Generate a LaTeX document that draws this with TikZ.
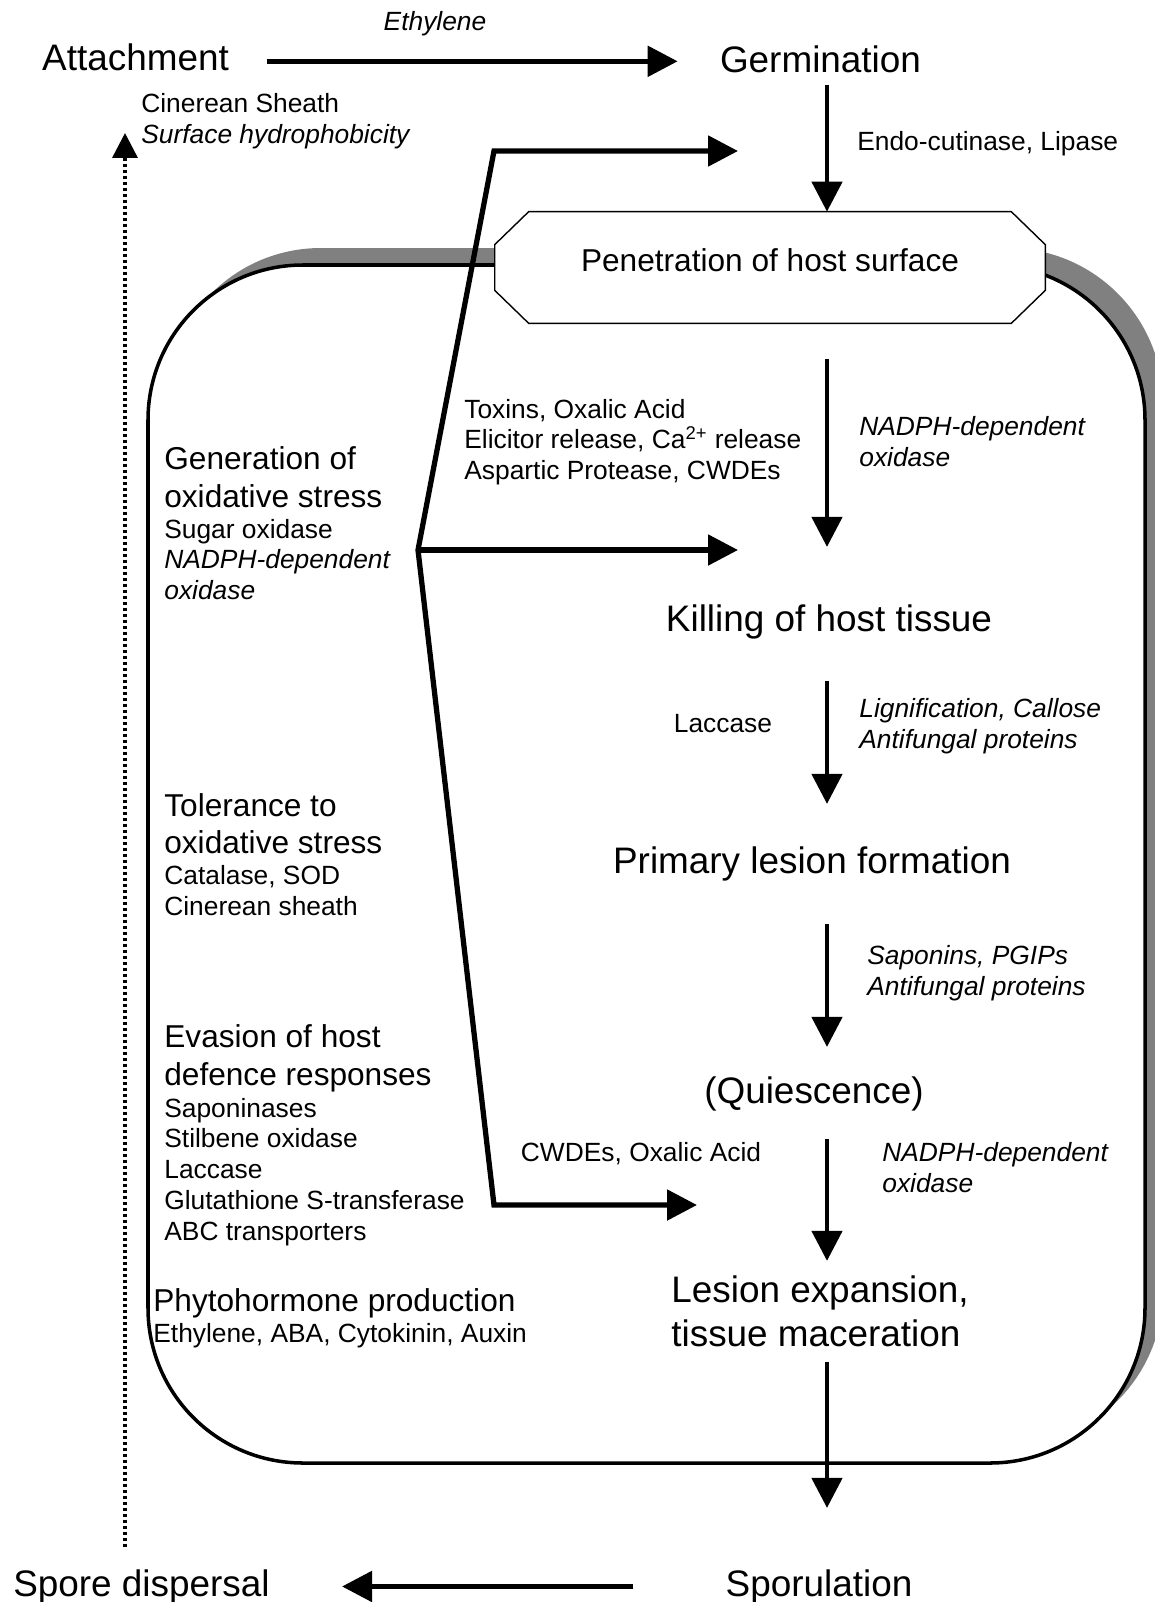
\documentclass[tikz,border=0pt]{standalone}
\usepackage{fontspec}
\setmainfont{Liberation Sans}
\usetikzlibrary{arrows.meta,positioning,backgrounds}
\tikzstyle{stage}=[font=\fontsize{21}{24.5}\selectfont, inner sep=0pt, anchor=base]
\tikzstyle{heading}=[font=\fontsize{18}{21.3}\selectfont, inner sep=0pt, anchor=base west, align=left]
\tikzstyle{factor}=[font=\fontsize{15}{17.5}\selectfont, inner sep=0pt, anchor=base west, align=left]
\tikzstyle{hostfactor}=[factor, font=\fontsize{15}{17.5}\selectfont\itshape]
\tikzstyle{flow}=[line width=3pt, -{Triangle[length=0.6cm, width=0.6cm]}]
\tikzstyle{advance}=[line width=2.6pt, -{Triangle[length=0.6cm, width=0.6cm]}]
\tikzstyle{dispersal}=[line width=2pt, dash pattern=on 0.06cm off 0.06cm, -{Triangle[length=0.5cm, width=0.5cm]}]
\tikzstyle{hostbox}=[line width=2pt, rounded corners=3.1cm]
\tikzstyle{surface}=[rectangle, minimum width=11cm, minimum height=2.22cm, inner sep=0pt, text depth=0.3cm, font=\fontsize{18}{21.3}\selectfont]

\begin{document}
\begin{tikzpicture}[x=0.02cm, y=-0.02cm]
		
		\useasboundingbox (0,0) rectangle (1154,1602);
		
		\node[surface] at (770, 267.5) (pen) {Penetration of host surface};
		
		\node[stage] at (135.5, 71) (att) {Attachment};
		
		\node[stage] at (820.5, 73) (germ) {Germination};
		
		\node[stage] at (829, 631) (kill) {Killing of host tissue};
		
		\node[stage] at (812, 873) (prim) {Primary lesion formation};
		
		\node[stage] at (814, 1103) (quies) {(Quiescence)};
		
		\node[stage, anchor=base west, align=left] at (671, 1346) (lesion) {Lesion expansion,\\tissue maceration};
		
		\node[stage] at (819, 1596) (spor) {Sporulation};
		
		\node[stage] at (141.5, 1596) (spore) {Spore dispersal};
		
		\coordinate (spine) at (827, 0);
		\coordinate (sheathtip) at (125, 133);
		\coordinate (fork) at (418, 550);
		\coordinate (forkup) at (494, 151);
		\coordinate (forkdown) at (494, 1205);
		\coordinate (penin) at (738, 151);
		\coordinate (killin) at (738, 550);
		\coordinate (lesionin) at (697, 1205);
		
		\node[hostfactor, anchor=base] at (435, 31) (ethylene) {Ethylene};
		\node[factor] at (141, 143.5) (sheath) {Cinerean Sheath\\\textit{Surface hydrophobicity}};
		\node[factor] at (857, 150.5) (cutinase) {Endo-cutinase, Lipase};
		\node[factor] at (464, 479.5) (toxins) {Toxins, Oxalic Acid\\Elicitor release, Ca\textsuperscript{2+} release\\Aspartic Protease, CWDEs};
		\node[hostfactor] at (859, 466.5) (oxidasea) {NADPH-dependent\\oxidase};
		\node[factor, anchor=base] at (723, 732.5) (laccase) {Laccase};
		\node[hostfactor] at (859, 748.5) (lignin) {Lignification, Callose\\Antifungal proteins};
		\node[hostfactor] at (867, 995.5) (saponins) {Saponins, PGIPs\\Antifungal proteins};
		\node[factor, anchor=base] at (641, 1161.5) (cwdes) {CWDEs, Oxalic Acid};
		\node[hostfactor] at (882, 1192.5) (oxidaseb) {NADPH-dependent\\oxidase};
		
		\node[heading] at (164, 507) (genhead) {Generation of\\oxidative stress};
		\node[factor] at (164, 599.5) (genlist) {Sugar oxidase\\\textit{NADPH-dependent}\\\textit{oxidase}};
		\node[heading] at (164, 853.5) (tolhead) {Tolerance to\\oxidative stress};
		\node[factor] at (164, 915.5) (tollist) {Catalase, SOD\\Cinerean sheath};
		\node[heading] at (164, 1085) (evahead) {Evasion of host\\defence responses};
		\node[factor] at (164, 1240) (evalist) {Saponinases\\Stilbene oxidase\\Laccase\\Glutathione S-transferase\\ABC transporters};
		\node[heading] at (153, 1311) (phytohead) {Phytohormone production};
		\node[factor] at (153, 1342.5) (phytolist) {Ethylene, ABA, Cytokinin, Auxin};
		
		\begin{scope}[on background layer]
		\fill[black!50, rounded corners=3.1cm] (166,248) rectangle (1163,1446);
		\draw[hostbox, fill=white] (148,265) rectangle (1145,1463);
		\draw[fill=white, line width=0.8pt] ([xshift=0.68cm]pen.north west) -- ([xshift=-0.68cm]pen.north east) -- ([yshift=-0.66cm]pen.north east) -- ([yshift=0.66cm]pen.south east) -- ([xshift=-0.68cm]pen.south east) -- ([xshift=0.68cm]pen.south west) -- ([yshift=0.66cm]pen.south west) -- ([yshift=-0.66cm]pen.north west) -- cycle;
		\end{scope}
		
		\draw[flow, shorten <=0.76cm, shorten >=0.84cm] ([yshift=-0.07cm]att.east) -- ([yshift=-0.07cm]att.east -| germ.west);
		\draw[advance, shorten <=0.22cm] (germ.south -| spine) -- (pen.north -| spine);
		\draw[advance, shorten <=0.72cm, shorten >=1.14cm] (pen.south -| spine) -- (kill.north -| spine);
		\draw[advance, shorten <=0.84cm, shorten >=0.84cm] (kill.south -| spine) -- (prim.north -| spine);
		\draw[advance, shorten <=0.86cm, shorten >=0.58cm] (prim.south -| spine) -- (quies.north -| spine);
		\draw[advance, shorten <=0.56cm, shorten >=0.30cm] (quies.south -| spine) -- (lesion.north -| spine);
		\draw[advance, shorten <=0.30cm, shorten >=1.22cm] (lesion.south -| spine) -- (spor.north -| spine);
		\draw[flow, shorten <=1.84cm, shorten >=1.44cm] (spor.west) -- (spore.east);
		\draw[dispersal, shorten <=0.44cm] (spore.north -| sheathtip) -- (sheathtip);
		
		\draw[flow, {Triangle[length=0.6cm, width=0.6cm]}-{Triangle[length=0.6cm, width=0.6cm]}] (penin) -- (forkup) -- (fork) -- (forkdown) -- (lesionin);
		\draw[flow] (fork) -- (killin);
		
		\end{tikzpicture}
\end{document}
